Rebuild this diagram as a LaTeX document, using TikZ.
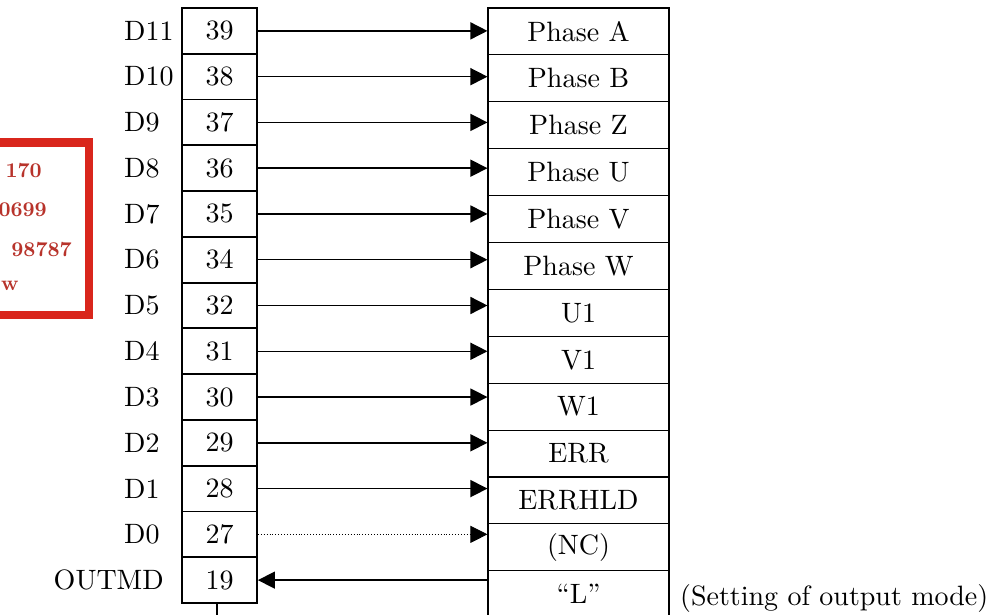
\documentclass[tikz,border=0pt]{standalone}
\usepackage{fontspec}
\setmainfont{lmroman10-regular}[Extension=.otf, BoldFont=lmroman10-bold]
\newfontfamily\adfont{lmroman10-bold}[Extension=.otf]
\usetikzlibrary{arrows.meta}
\definecolor{adred}{HTML}{D9261C}
\definecolor{adtext}{HTML}{B8332B}
\begin{document}
\begin{tikzpicture}[x=1pt,y=-1pt,
  lbl/.style={font=\fontsize{28}{30}\selectfont, inner sep=0pt},
  pinbox/.style={draw, line width=1.8pt, minimum width=75pt, minimum height=45.77pt, inner sep=0pt, font=\fontsize{28}{30}\selectfont},
  sigbox/.style={draw, line width=1.1pt, minimum width=181pt, minimum height=46.9pt, inner sep=0pt, font=\fontsize{28}{30}\selectfont},
  sigarrow/.style={line width=1.5pt, -{Triangle[length=17pt,width=17pt]}},
  adnum/.style={font=\fontsize{21}{24}\selectfont\adfont, text=adtext, inner sep=0pt, anchor=base east}
]
\useasboundingbox (0,0) rectangle (997,615);
\clip (0,0) rectangle (997,615);
\fill[white] (0,0) rectangle (997,615);

% advertisement box at left edge
\draw[adred, line width=8.5pt] (-20,142.5) rectangle (89,315);
\node[adnum] (ad1) at (42,178) {170};
\node[adnum] (ad2) at (47,217) {0699};
\node[adnum] (ad3) at (72,256) {98787};
\node[adnum, anchor=base west] (ad4) at (1,290) {w};

% pin column
\foreach \n/\d [count=\i from 0] in {39/D11,38/D10,37/D9,36/D8,35/D7,34/D6,32/D5,31/D4,30/D3,29/D2,28/D1,27/D0,19/OUTMD}{
  \node[pinbox] (p\n) at (219.5,{8+45.77*(\i+0.5)}) {\n};
}
\foreach \n/\d in {39/D11,38/D10,37/D9,36/D8,35/D7,34/D6,32/D5,31/D4,30/D3,29/D2,28/D1,27/D0}{
  \node[lbl, anchor=west] (l\n) at (124,0 |- p\n) {\d};
}
\node[lbl, anchor=east] (l19) at (164,0 |- p19) {OUTMD};

% signal column
\foreach \s/\t [count=\i from 0] in {rA/Phase A,rB/Phase B,rZ/Phase Z,rU/Phase U,rV/Phase V,rW/Phase W,rUa/U1,rVa/V1,rWa/W1,rE/ERR,rEH/ERRHLD,rNC/(NC),rL/``L''}{
  \node[sigbox] (\s) at (578.5,{8+46.9*(\i+0.5)}) {\t};
}
\node[lbl, anchor=west] (note) at (680,598) {(Setting of output mode)};

% arrows
\foreach \p/\s in {39/rA,38/rB,37/rZ,36/rU,35/rV,34/rW,32/rUa,31/rVa,30/rWa,29/rE,28/rEH}{
  \draw[sigarrow] (p\p.east) -- (p\p.east -| \s.west);
}
\draw[sigarrow, line width=0.9pt, dotted] (p27.east) -- (p27.east -| rNC.west);
\draw[sigarrow] (p19.east -| rL.west) -- (p19.east);

% stem below pin column
\coordinate (stemend) at (217,620);
\draw[line width=1.8pt] (p19.south -| stemend) -- (stemend);
\end{tikzpicture}
\end{document}
